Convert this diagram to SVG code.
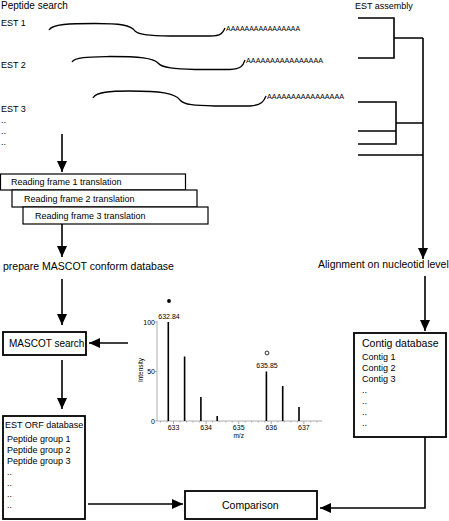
<svg xmlns="http://www.w3.org/2000/svg" width="449" height="521" viewBox="0 0 449 521">
<style>
text{font-family:"Liberation Sans",Arial,sans-serif;fill:#000}
.box{fill:#fff;stroke:#000;stroke-width:1.2}
.bbox{fill:#fff;stroke:#000;stroke-width:1.8}
.ln{fill:none;stroke:#000;stroke-width:1.6}
.est{fill:none;stroke:#000;stroke-width:1.3}
.tree{fill:none;stroke:#000;stroke-width:1.6}
.ax{fill:none;stroke:#999;stroke-width:0.8}
.pk{stroke:#000;stroke-width:1.6}
.s7{font-size:7px}
.s9{font-size:9px}
.s10{font-size:10px}
.s105{font-size:10.5px}
.polya{font-size:7px}
</style>
<defs>
<marker id="ah" markerUnits="userSpaceOnUse" markerWidth="12" markerHeight="10" refX="11" refY="5" orient="auto">
<path d="M0,0 L11,5 L0,10 Z" fill="#000"/>
</marker>
</defs>

<g id="labels">
<text class="s10" x="1" y="9">Peptide search</text>
<text class="s9" x="355" y="9">EST assembly</text>
</g>

<g id="est1">
<text class="s9" x="1" y="26">EST 1</text>
<path class="est" d="M49,30 C52,24 70,23.5 95,23.5 C120,23.5 131,25 135,31 C139,35 150,35.5 170,36 L210,36 C221,36 223,33 225,28"/>
<text class="polya" x="226" y="30.5" textLength="74" lengthAdjust="spacingAndGlyphs">AAAAAAAAAAAAAAAA</text>
</g>
<g id="est2">
<text class="s9" x="1" y="68">EST 2</text>
<path class="est" d="M72,62 C75,57 90,57 110,56.5 C140,56.5 153,58 158,63 C162,68 175,69 195,69.5 L230,69.5 C241,69 243,66 245,60"/>
<text class="polya" x="246" y="63" textLength="77" lengthAdjust="spacingAndGlyphs">AAAAAAAAAAAAAAAA</text>
</g>
<g id="est3">
<text class="s9" x="1" y="112">EST 3</text>
<path class="est" d="M93,98 C96,92 110,91 130,91 C160,91 175,93 180,100 C184,105 195,105.5 215,106 L250,106 C262,105 264,101 266,96"/>
<text class="polya" x="267" y="99" textLength="77" lengthAdjust="spacingAndGlyphs">AAAAAAAAAAAAAAAA</text>
</g>
<g id="dots-est">
<text class="s9" x="1" y="123">..</text>
<text class="s9" x="1" y="134">..</text>
<text class="s9" x="1" y="145">..</text>
</g>

<g id="tree">
<path class="tree" d="M358,18 H394 V58 H358 M394,38 H423"/>
<path class="tree" d="M358,102 H396 V144 H358 M358,131 H396 M396,123 H423 M358,155 H423"/>
</g>

<g id="rf1"><rect class="box" x="0.5" y="174" width="185" height="16"/><text class="s9" x="11" y="185">Reading frame 1 translation</text></g>
<g id="rf2"><rect class="box" x="12" y="190" width="185" height="17"/><text class="s9" x="24" y="202">Reading frame 2 translation</text></g>
<g id="rf3"><rect class="box" x="23" y="207" width="185" height="17"/><text class="s9" x="35" y="219">Reading frame 3 translation</text></g>

<g id="prepare"><text class="s105" x="3" y="270">prepare MASCOT conform database</text></g>
<g id="alignment"><text class="s105" x="318" y="268">Alignment on nucleotid level</text></g>

<g id="mascot"><rect class="bbox" x="3" y="332" width="83" height="23"/><text class="s10" x="9" y="347">MASCOT search</text></g>

<g id="estorf">
<rect class="bbox" x="3" y="416" width="82" height="103"/>
<text class="s9" x="5" y="428">EST ORF database</text>
<text class="s9" x="7" y="442">Peptide group 1</text>
<text class="s9" x="7" y="453">Peptide group 2</text>
<text class="s9" x="7" y="464">Peptide group 3</text>
<text class="s9" x="7" y="475">..</text>
<text class="s9" x="7" y="486">..</text>
<text class="s9" x="7" y="497">..</text>
<text class="s9" x="7" y="508">..</text>
</g>

<g id="contig">
<rect class="bbox" x="354" y="333" width="92" height="104"/>
<text class="s105" x="362" y="347">Contig database</text>
<text class="s9" x="362" y="360">Contig 1</text>
<text class="s9" x="362" y="371">Contig 2</text>
<text class="s9" x="362" y="382">Contig 3</text>
<text class="s9" x="362" y="393">..</text>
<text class="s9" x="362" y="404">..</text>
<text class="s9" x="362" y="415">..</text>
<text class="s9" x="362" y="426">..</text>
</g>

<g id="comparison"><rect class="bbox" x="185" y="491" width="132" height="28"/><text class="s105" x="222" y="509">Comparison</text></g>

<g id="spectrum">
<path class="ax" d="M157,321 V421 H322"/>
<path class="ax" d="M155,322 H157 M155,371.5 H157 M155,421 H157"/>
<path class="ax" d="M173.5,421 v3 M206.1,421 v3 M238.7,421 v3 M271.3,421 v3 M303.9,421 v3"/>
<path class="ax" stroke-width="0.5" d="M160.5,421 v1.5 M167,421 v1.5 M180,421 v1.5 M186.5,421 v1.5 M193,421 v1.5 M199.6,421 v1.5 M212.6,421 v1.5 M219.1,421 v1.5 M225.7,421 v1.5 M232.2,421 v1.5 M245.2,421 v1.5 M251.7,421 v1.5 M258.3,421 v1.5 M264.8,421 v1.5 M277.8,421 v1.5 M284.3,421 v1.5 M290.9,421 v1.5 M297.4,421 v1.5 M310.4,421 v1.5 M316.9,421 v1.5"/>
<line class="pk" x1="168.3" y1="421" x2="168.3" y2="322"/>
<line class="pk" x1="184.6" y1="421" x2="184.6" y2="356.5"/>
<line class="pk" x1="200.9" y1="421" x2="200.9" y2="397"/>
<line class="pk" stroke-width="1.2" x1="217.2" y1="421" x2="217.2" y2="416"/>
<line class="pk" x1="266.4" y1="421" x2="266.4" y2="371.5"/>
<line class="pk" x1="282.7" y1="421" x2="282.7" y2="386"/>
<line class="pk" x1="299" y1="421" x2="299" y2="407"/>
<text class="s7" x="155" y="325" text-anchor="end">100</text>
<text class="s7" x="155" y="374" text-anchor="end">50</text>
<text class="s7" x="155" y="424" text-anchor="end">0</text>
<text class="s7" x="173.5" y="429.5" text-anchor="middle">633</text>
<text class="s7" x="206.1" y="429.5" text-anchor="middle">634</text>
<text class="s7" x="238.7" y="429.5" text-anchor="middle">635</text>
<text class="s7" x="271.3" y="429.5" text-anchor="middle">636</text>
<text class="s7" x="303.9" y="429.5" text-anchor="middle">637</text>
<text font-size="6.5" x="238.7" y="438" text-anchor="middle">m/z</text>
<text font-size="6.5" transform="translate(143,370) rotate(-90)" text-anchor="middle">Intensity</text>
<text class="s7" x="169" y="318.5" text-anchor="middle">632.84</text>
<circle cx="169" cy="301" r="1.9" fill="#000"/>
<text class="s7" x="267" y="368" text-anchor="middle">635.85</text>
<circle cx="267" cy="353" r="1.9" fill="none" stroke="#000" stroke-width="0.8"/>
</g>

<g id="connectors">
<line class="ln" x1="62" y1="134" x2="62" y2="172" marker-end="url(#ah)"/>
<line class="ln" x1="62" y1="224" x2="62" y2="257" marker-end="url(#ah)"/>
<line class="ln" x1="62" y1="279" x2="62" y2="325" marker-end="url(#ah)"/>
<line class="ln" x1="128" y1="343" x2="89" y2="343" marker-end="url(#ah)"/>
<line class="ln" x1="62" y1="360" x2="62" y2="409" marker-end="url(#ah)"/>
<line class="ln" x1="88" y1="504" x2="183" y2="504" marker-end="url(#ah)"/>
<line class="ln" x1="423" y1="38" x2="423" y2="259" marker-end="url(#ah)"/>
<line class="ln" x1="425" y1="276" x2="425" y2="331" marker-end="url(#ah)"/>
<path class="ln" d="M425,437 V508 H320" marker-end="url(#ah)"/>
</g>
</svg>
